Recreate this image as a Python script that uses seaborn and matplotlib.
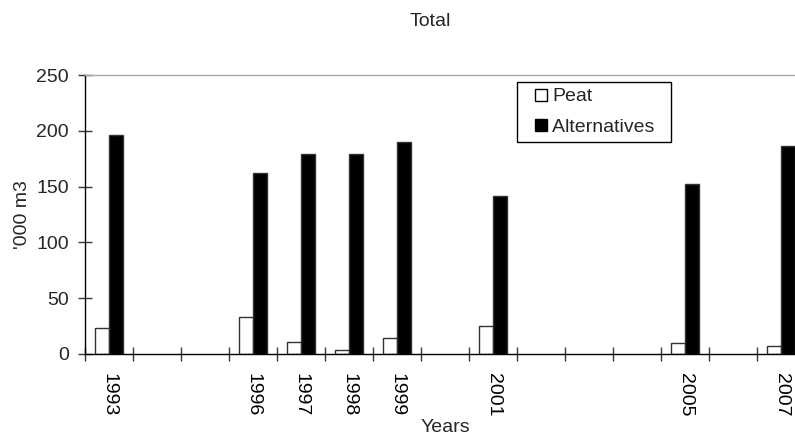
import numpy as np
import pandas as pd
import matplotlib
matplotlib.use("Agg")
import matplotlib.pyplot as plt
from matplotlib.patches import Patch, Rectangle
from matplotlib.legend_handler import HandlerPatch
import seaborn as sns

years = [str(y) for y in range(1993, 2008)]
peat = [23, np.nan, np.nan, 33, 11, 4, 14, np.nan, 25, np.nan, np.nan, np.nan, 10, np.nan, 7]
alternatives = [196, np.nan, np.nan, 162, 179, 179, 190, np.nan, 142, np.nan, np.nan, np.nan, 152, np.nan, 186]
labeled_years = ["1993", "1996", "1997", "1998", "1999", "2001", "2005", "2007"]
series = ["Peat", "Alternatives"]

sns.set_theme(style="white")
plt.rcParams["font.family"] = ["Liberation Sans", "DejaVu Sans"]
FS = 14

df = pd.DataFrame({
    "Year": years * 2,
    "Series": ["Peat"] * len(years) + ["Alternatives"] * len(years),
    "Value": peat + alternatives,
})

fig = plt.figure(figsize=(7.95, 4.42), dpi=100)
ax = fig.add_axes([85 / 795, 1 - 354 / 442, 720 / 795, 279 / 442])

sns.barplot(data=df, x="Year", y="Value", hue="Series", order=years,
            hue_order=series, palette={"Peat": "white", "Alternatives": "black"},
            width=0.58, edgecolor="#333333", linewidth=1.0, ax=ax, legend=False)

ax.set_xlim(-0.5, len(years) - 0.5)
ax.set_ylim(0, 250)
ax.set_yticks([0, 50, 100, 150, 200, 250])
ax.set_xticks(range(len(years)))
ax.set_xticklabels([y if y in labeled_years else "" for y in years], rotation=-90)
ax.set_xticks(np.arange(-0.5, len(years)), minor=True)
ax.tick_params(axis="x", which="major", length=0, pad=13.5, labelsize=FS, colors="black")
ax.tick_params(axis="x", which="minor", length=9.4, direction="inout", width=1, color="#333333", bottom=True)
ax.tick_params(axis="y", which="major", length=9.4, direction="inout", width=1, color="#333333",
               left=True, labelsize=FS, pad=7)

for s in ["left", "bottom"]:
    ax.spines[s].set_color("black")
    ax.spines[s].set_linewidth(1.0)
ax.spines["top"].set_color("#aaaaaa")
ax.spines["top"].set_linewidth(1.0)
ax.spines["right"].set_visible(False)

ax.set_xlabel("Years", fontsize=FS, labelpad=2)
ax.set_ylabel("'000 m3", fontsize=FS, labelpad=4)
fig.text(430 / 795, 1 - 22 / 442, "Total", ha="center", va="center", fontsize=FS)


def square_patch(legend, orig_handle, xdescent, ydescent, width, height, fontsize):
    s = 0.62 * fontsize
    return Rectangle((-xdescent + width - s, -ydescent + (height - s) / 2), s, s)


handles = [Patch(facecolor="white", edgecolor="black", label="Peat"),
           Patch(facecolor="black", edgecolor="black", label="Alternatives  ")]
handles[1].set_label("Alternatives  ")
leg = ax.legend(handles=handles, loc="upper left", bbox_to_anchor=(0.6, 0.975),
                fancybox=False, framealpha=1, edgecolor="black", fontsize=FS,
                handlelength=1.25, handleheight=0.7, handletextpad=0.25,
                borderpad=0.3, labelspacing=0.65, borderaxespad=0,
                handler_map={Patch: HandlerPatch(patch_func=square_patch)})
leg.get_frame().set_linewidth(1.0)

fig.savefig("out.png", dpi=100)
